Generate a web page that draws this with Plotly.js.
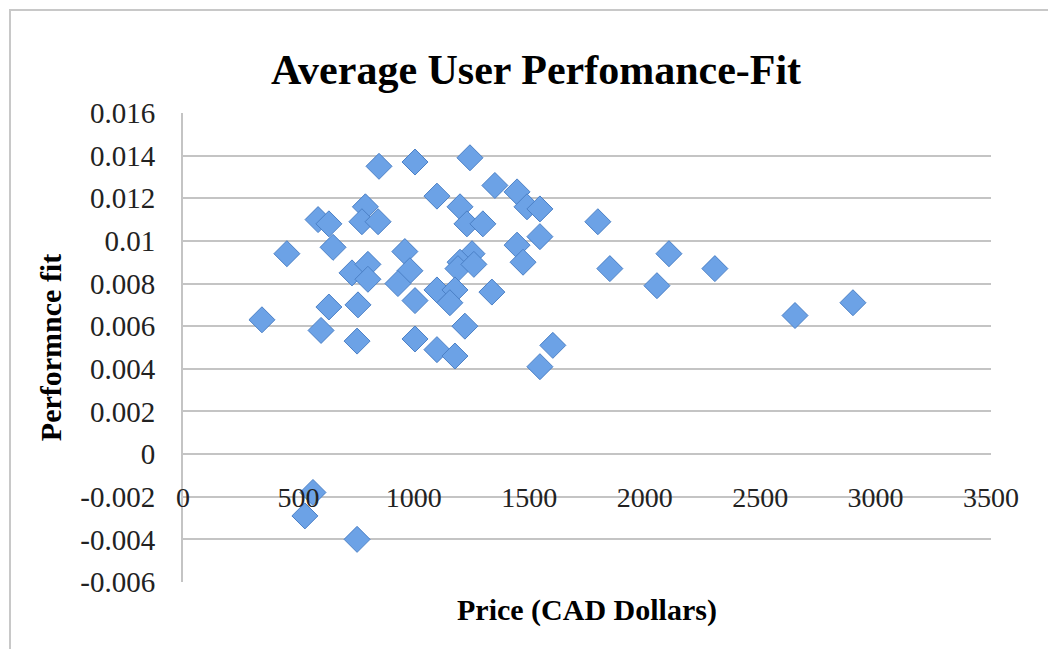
<!DOCTYPE html>
<html>
<head>
<meta charset="utf-8">
<script src="https://cdn.plot.ly/plotly-3.0.1.min.js"></script>
<style>
  html, body { margin: 0; padding: 0; background: #ffffff; }
  #wrap { position: relative; width: 1048px; height: 649px; overflow: hidden; }
  #chart { width: 1048px; height: 649px; }
  #frame { position: absolute; left: 9px; top: 9px; width: 1100px; height: 700px;
           border-left: 2px solid #c8c8c8; border-top: 2px solid #c8c8c8; pointer-events: none; }
</style>
</head>
<body>
<div id="wrap">
  <div id="chart"></div>
  <div id="frame"></div>
</div>
<script>
const price = [342, 450, 563, 528, 754, 585, 632, 650, 598, 632, 732, 758, 754, 790, 775, 849, 845, 801, 801, 961, 983, 931, 1005, 1005, 1005, 1100, 1100, 1100, 1243, 1351, 1447, 1200, 1490, 1546, 1230, 1299, 1797, 1447, 1546, 1252, 1200, 1191, 1260, 1473, 1849, 1178, 1156, 1338, 1221, 1178, 1602, 1546, 2105, 2053, 2304, 2651, 2902];
const fit = [0.0063, 0.0094, -0.0018, -0.0029, -0.0040, 0.0110, 0.0108, 0.0097, 0.0058, 0.0069, 0.0085, 0.0070, 0.0053, 0.0116, 0.0109, 0.0135, 0.0109, 0.0089, 0.0082, 0.0095, 0.0086, 0.0080, 0.0137, 0.0072, 0.0054, 0.0121, 0.0077, 0.0049, 0.0139, 0.0126, 0.0123, 0.0116, 0.0116, 0.0115, 0.0108, 0.0108, 0.0109, 0.0098, 0.0102, 0.0094, 0.0090, 0.0087, 0.0089, 0.0090, 0.0087, 0.0077, 0.0071, 0.0076, 0.0060, 0.0046, 0.0051, 0.0041, 0.0094, 0.0079, 0.0087, 0.0065, 0.0071];
const xTicks = [0, 500, 1000, 1500, 2000, 2500, 3000, 3500];
const yTicks = [0.016, 0.014, 0.012, 0.01, 0.008, 0.006, 0.004, 0.002, 0, -0.002, -0.004, -0.006];
const yTickText = ['0.016', '0.014', '0.012', '0.01', '0.008', '0.006', '0.004', '0.002', '0', '-0.002', '-0.004', '-0.006'];
const titleText = 'Average User Perfomance-Fit';
const xTitle = 'Price (CAD Dollars)';
const yTitle = 'Performnce fit';

const serif = '"Liberation Serif", "Times New Roman", serif';
const yMin = -0.006, yMax = 0.016;
const zeroPos = (0 - yMin) / (yMax - yMin);

const trace = {
  type: 'scatter', mode: 'markers', x: price, y: fit,
  marker: { symbol: 'diamond', size: 20, color: '#6ca2e6', line: { color: '#4b80c6', width: 1 } },
  hoverinfo: 'x+y'
};

const layout = {
  width: 1048, height: 649,
  paper_bgcolor: '#ffffff', plot_bgcolor: '#ffffff',
  margin: { l: 183, r: 57, t: 113, b: 67 },
  showlegend: false,
  title: { text: '<b>' + titleText + '</b>', font: { family: serif, size: 42, color: '#000000' },
           x: 536 / 1048, xref: 'container', xanchor: 'center', y: 1 - 69 / 649, yref: 'container', yanchor: 'middle' },
  xaxis: {
    range: [0, 3500], tickvals: xTicks, ticktext: xTicks.map(String),
    anchor: 'free', position: zeroPos, side: 'bottom',
    showgrid: false, zeroline: false, showline: false,
    ticks: 'outside', ticklen: 18, tickcolor: 'rgba(0,0,0,0)',
    tickfont: { family: serif, size: 28, color: '#222222' },
    fixedrange: true
  },
  yaxis: {
    range: [yMin, yMax], tickvals: yTicks, ticktext: yTickText,
    showgrid: true, gridcolor: '#c4c4c4', gridwidth: 2,
    zeroline: true, zerolinecolor: '#c4c4c4', zerolinewidth: 2,
    showline: true, linecolor: '#c4c4c4', linewidth: 2,
    ticks: 'outside', ticklen: 20, tickcolor: 'rgba(0,0,0,0)',
    tickfont: { family: serif, size: 29, color: '#222222' },
    title: { text: '<b>' + yTitle + '</b>', font: { family: serif, size: 30, color: '#000000' }, standoff: 10 },
    automargin: false, fixedrange: true
  },
  annotations: [{
    text: '<b>' + xTitle + '</b>', xref: 'paper', yref: 'paper', x: 0.5, y: -0.02,
    xanchor: 'center', yanchor: 'top', showarrow: false,
    font: { family: serif, size: 30, color: '#000000' }
  }]
};

Plotly.newPlot('chart', [trace], layout, { displayModeBar: false, staticPlot: true });
</script>
</body>
</html>
